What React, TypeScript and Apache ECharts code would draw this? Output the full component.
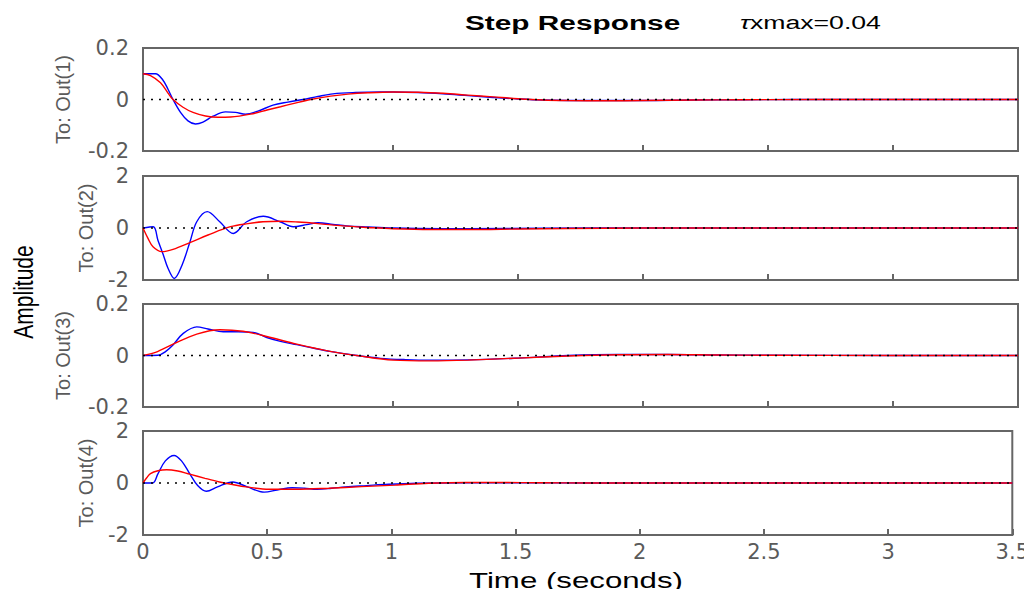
import React, { useEffect, useRef } from "react";
import * as echarts from "echarts";

const xTicks = [0, 0.5, 1, 1.5, 2, 2.5, 3, 3.5];
const outNames = ["To: Out(1)", "To: Out(2)", "To: Out(3)", "To: Out(4)"];
const yLimits = [0.2, 2, 0.2, 2];

// Out(1)
const t1Blue = [0, 0.05, 0.08, 0.1, 0.12, 0.15, 0.18, 0.21, 0.24, 0.28, 0.33, 0.37, 0.41, 0.46, 0.52, 0.58, 0.64, 0.7, 0.76, 0.85, 0.95, 1.0, 1.1, 1.2, 1.3, 1.4, 1.5, 1.6, 1.8, 2.0, 2.2, 2.4, 2.6, 3.0, 3.5];
const v1Blue = [0.1, 0.1, 0.075, 0.04, 0.0, -0.05, -0.083, -0.095, -0.088, -0.065, -0.048, -0.05, -0.057, -0.045, -0.022, -0.01, 0.0, 0.012, 0.022, 0.027, 0.029, 0.029, 0.027, 0.022, 0.015, 0.008, 0.002, -0.002, -0.004, -0.004, -0.002, -0.001, 0, 0, 0];
const t1Red = [0, 0.03, 0.07, 0.1, 0.12, 0.16, 0.2, 0.25, 0.3, 0.35, 0.43, 0.5, 0.55, 0.6, 0.67, 0.75, 0.82, 0.9, 1.0, 1.1, 1.2, 1.3, 1.4, 1.5, 1.6, 1.7, 1.85, 2.0, 2.2, 2.4, 2.7, 3.0, 3.5];
const v1Red = [0.1, 0.093, 0.065, 0.025, 0.0, -0.03, -0.05, -0.064, -0.069, -0.068, -0.057, -0.04, -0.028, -0.016, 0.0, 0.013, 0.021, 0.026, 0.029, 0.028, 0.024, 0.017, 0.01, 0.003, -0.002, -0.004, -0.005, -0.004, -0.002, -0.001, 0, 0, 0];

// Out(2)
const t2Blue = [0, 0.041, 0.06, 0.08, 0.1, 0.125, 0.156, 0.188, 0.215, 0.257, 0.307, 0.361, 0.415, 0.481, 0.548, 0.601, 0.655, 0.7, 0.76, 0.815, 0.9, 1.0, 1.1, 1.3, 1.6, 2.0, 2.5, 3.0, 3.5];
const v2Blue = [0, 0.05, -0.48, -1.0, -1.55, -1.94, -1.43, -0.53, 0.24, 0.63, 0.24, -0.21, 0.24, 0.45, 0.24, 0.05, 0.13, 0.2, 0.14, 0.08, 0.04, 0.0, -0.02, -0.03, -0.01, 0, 0, 0, 0];
const t2Red = [0, 0.02, 0.04, 0.075, 0.12, 0.19, 0.26, 0.35, 0.42, 0.48, 0.55, 0.62, 0.7, 0.8, 0.9, 1.0, 1.15, 1.3, 1.5, 1.7, 2.0, 2.5, 3.0, 3.5];
const v2Red = [0, -0.4, -0.72, -0.91, -0.82, -0.55, -0.27, 0.05, 0.17, 0.24, 0.26, 0.23, 0.17, 0.08, 0.02, -0.03, -0.06, -0.06, -0.04, -0.02, 0, 0, 0, 0];

// Out(3)
const t3Blue = [0, 0.06, 0.09, 0.121, 0.16, 0.215, 0.26, 0.321, 0.38, 0.44, 0.495, 0.55, 0.615, 0.68, 0.748, 0.855, 0.95, 1.05, 1.15, 1.3, 1.5, 1.7, 1.9, 2.1, 2.3, 2.5, 3.0, 3.5];
const v3Blue = [0, 0.001, 0.015, 0.042, 0.085, 0.111, 0.103, 0.092, 0.092, 0.09, 0.07, 0.055, 0.042, 0.029, 0.016, 0.0, -0.011, -0.016, -0.018, -0.017, -0.01, 0, 0.004, 0.004, 0.002, 0.001, 0, 0];
const t3Red = [0, 0.05, 0.12, 0.215, 0.308, 0.4, 0.495, 0.615, 0.748, 0.855, 1.0, 1.15, 1.3, 1.5, 1.7, 1.9, 2.1, 2.3, 2.5, 3.0, 3.5];
const v3Red = [0, 0.012, 0.044, 0.083, 0.1, 0.094, 0.074, 0.044, 0.016, 0.0, -0.018, -0.021, -0.018, -0.01, -0.002, 0.003, 0.004, 0.002, 0.001, 0, 0];

// Out(4)
const t4Blue = [0, 0.039, 0.06, 0.09, 0.125, 0.155, 0.188, 0.22, 0.255, 0.3, 0.361, 0.42, 0.488, 0.54, 0.601, 0.65, 0.7, 0.76, 0.815, 0.9, 0.988, 1.1, 1.3, 1.5, 1.8, 2.2, 3.0, 3.5];
const v4Blue = [0, 0, 0.35, 0.85, 1.06, 0.85, 0.36, -0.1, -0.32, -0.15, 0.04, -0.15, -0.35, -0.27, -0.18, -0.2, -0.24, -0.2, -0.15, -0.1, -0.05, -0.01, 0.01, 0.01, 0, 0, 0, 0];
const t4Red = [0, 0.015, 0.03, 0.06, 0.095, 0.14, 0.188, 0.25, 0.308, 0.36, 0.415, 0.508, 0.615, 0.748, 0.88, 1.015, 1.15, 1.3, 1.45, 1.6, 1.8, 2.0, 2.5, 3.0, 3.5];
const v4Red = [0, 0.2, 0.36, 0.47, 0.51, 0.46, 0.34, 0.18, 0.04, -0.06, -0.15, -0.24, -0.24, -0.2, -0.14, -0.08, -0.01, 0.02, 0.02, 0.01, 0.0, 0, 0, 0, 0];

const blueT = [t1Blue, t2Blue, t3Blue, t4Blue];
const blueV = [v1Blue, v2Blue, v3Blue, v4Blue];
const redT = [t1Red, t2Red, t3Red, t4Red];
const redV = [v1Red, v2Red, v3Red, v4Red];

const FONT = "'Liberation Sans', Arial, Helvetica, sans-serif";
const WIDE = "'DejaVu Sans', 'Liberation Sans', sans-serif";

export default function App() {
  const ref = useRef<HTMLDivElement>(null);
  useEffect(() => {
    if (!ref.current) return;
    const chart = echarts.init(ref.current, null, { renderer: "svg" });
    const gridTops = [48, 176, 304, 431];
    const gridHeights = [103, 104, 103, 104];
    const nameGaps = [70, 47, 70, 47];
    const grids: any[] = [];
    const xAxes: any[] = [];
    const yAxes: any[] = [];
    const series: any[] = [];
    const zip = (t: number[], v: number[]) => t.map((x, i) => [x, v[i]]);
    for (let i = 0; i < 4; i++) {
      grids.push({
        left: 143,
        right: 14,
        top: gridTops[i],
        height: gridHeights[i],
        show: true,
        borderColor: "#666",
        borderWidth: 2,
      });
      const isLast = i === 3;
      xAxes.push({
        type: "value",
        gridIndex: i,
        min: xTicks[0],
        max: xTicks[xTicks.length - 1],
        interval: 0.5,
        axisLine: { show: false, onZero: false },
        axisTick: { show: true, inside: true, length: 6, lineStyle: { color: "#666", width: 2 } },
        splitLine: { show: false },
        axisLabel: {
          show: isLast,
          fontSize: 21,
          color: "#5a5a5a",
          fontFamily: WIDE,
          margin: 6,
          formatter: (v: number) => String(v),
        },
      });
      const lim = yLimits[i];
      yAxes.push({
        type: "value",
        gridIndex: i,
        min: -lim,
        max: lim,
        interval: lim,
        axisLine: { show: false },
        axisTick: { show: false },
        splitLine: { show: false },
        axisLabel: {
          fontSize: 21,
          color: "#5a5a5a",
          fontFamily: WIDE,
          margin: 14,
          formatter: (v: number) => (Math.abs(v) < 1e-9 ? "0" : String(v)),
        },
        name: outNames[i],
        nameLocation: "middle",
        nameRotate: 90,
        nameGap: nameGaps[i],
        nameTextStyle: { fontSize: 20, color: "#5a5a5a", fontFamily: FONT },
      });
      series.push({
        type: "line",
        xAxisIndex: i,
        yAxisIndex: i,
        data: zip(blueT[i], blueV[i]),
        showSymbol: false,
        smooth: 0.35,
        lineStyle: { color: "#0000ff", width: 1.4 },
        z: 3,
      });
      series.push({
        type: "line",
        xAxisIndex: i,
        yAxisIndex: i,
        data: zip(redT[i], redV[i]),
        showSymbol: false,
        smooth: 0.35,
        lineStyle: { color: "#ff0000", width: 1.4 },
        z: 4,
      });
      series.push({
        type: "line",
        xAxisIndex: i,
        yAxisIndex: i,
        data: [[xTicks[0], 0], [xTicks[xTicks.length - 1], 0]],
        showSymbol: false,
        lineStyle: { color: "#000", width: 1.5, type: [2, 6] },
        z: 5,
      });
    }
    chart.setOption({
      animation: false,
      backgroundColor: "#fff",
      grid: grids,
      xAxis: xAxes,
      yAxis: yAxes,
      series,
      graphic: [
        {
          type: "text",
          x: 465,
          y: 12,
          scaleX: 1.42,
          style: { text: "Step Response", fontSize: 21, fontWeight: "bold", fill: "#000", fontFamily: FONT },
        },
        {
          type: "text",
          x: 740,
          y: 14,
          scaleX: 1.48,
          style: {
            text: "{t|τ}xmax=0.04",
            fontSize: 18,
            fill: "#000",
            fontFamily: FONT,
            rich: { t: { fontStyle: "italic", fontSize: 18, fontFamily: FONT } },
          },
        },
        {
          type: "text",
          x: 23,
          y: 292,
          rotation: Math.PI / 2,
          scaleY: 1.3,
          style: {
            text: "Amplitude",
            fontSize: 21,
            fill: "#000",
            fontFamily: FONT,
            align: "center",
            verticalAlign: "middle",
          },
        },
        {
          type: "text",
          x: 576,
          y: 581,
          scaleX: 1.42,
          style: {
            text: "Time (seconds)",
            fontSize: 22,
            fill: "#000",
            fontFamily: FONT,
            align: "center",
            verticalAlign: "middle",
          },
        },
      ],
    });
    return () => chart.dispose();
  }, []);
  return <div ref={ref} style={{ width: 1032, height: 597, margin: -8 }} />;
}
